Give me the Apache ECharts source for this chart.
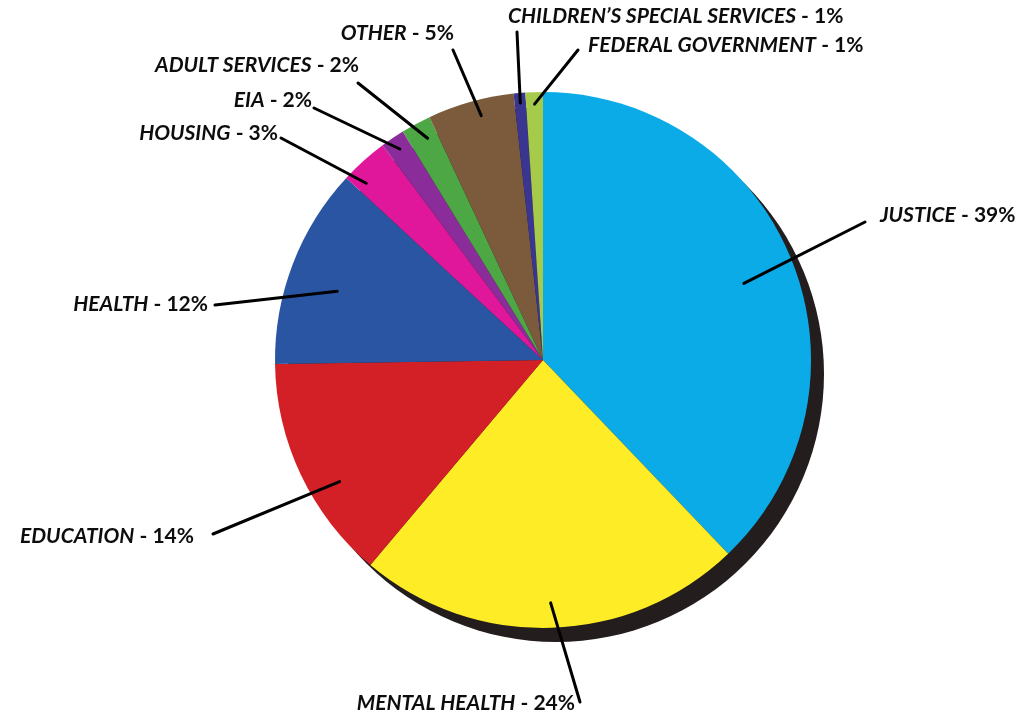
<!DOCTYPE html>
<html><head><meta charset="utf-8">
<script src="https://cdn.jsdelivr.net/npm/echarts@6/dist/echarts.min.js"></script>
<style>html,body{margin:0;padding:0;background:#fff}#c{width:1020px;height:714px}</style>
</head><body><div id="c"></div>
<script>
const categories = ['JUSTICE','MENTAL HEALTH','EDUCATION','HEALTH','HOUSING','EIA','ADULT SERVICES','OTHER','CHILDREN\u2019S SPECIAL SERVICES','FEDERAL GOVERNMENT'];
const shares = [37.8, 23.25, 13.6, 12.1, 2.9, 1.45, 1.8, 5.2, 0.7, 1.05];
const labelPercents = ['39%','24%','14%','12%','3%','2%','2%','5%','1%','1%'];

// presentation
const colors = ['#0AABE6','#FDEC26','#D32027','#2A55A3','#E0179A','#8A2D9A','#4CA744','#7B5B3B','#393591','#A6CB4B'];
const CX = 543, CY = 360, R = 268;
const lineStartR = [215, 243, 237, 217, 250, 255, 250, 252, 258, 256];
const lineStartAngleShift = [1, 0, -5.5, -2.5, -3, 0, 0.8, 1.5, 0, 0];
const labelAnchor = [
  {x: 880, y: 215, align: 'left',  end: [865, 222]},
  {x: 575, y: 703, align: 'right', end: [580, 702]},
  {x: 194, y: 536, align: 'right', end: [213, 534]},
  {x: 208, y: 304, align: 'right', end: [215, 305]},
  {x: 278, y: 133, align: 'right', end: [281, 138]},
  {x: 312, y: 100, align: 'right', end: [314, 108]},
  {x: 359, y: 65,  align: 'right', end: [358, 83]},
  {x: 454, y: 33,  align: 'right', end: [453, 50]},
  {x: 508, y: 16,  align: 'left',  end: [517, 32]},
  {x: 588, y: 45,  align: 'left',  end: [578, 50]}
];

// leader lines: start near each slice's mid-angle (derived from the data)
const total = shares.reduce((a, b) => a + b, 0);
let cum = 0;
const leaderLines = shares.map((v, i) => {
  const mid = (cum + v / 2) / total * 2 * Math.PI + lineStartAngleShift[i] * Math.PI / 180;
  cum += v;
  const sx = CX + lineStartR[i] * Math.sin(mid);
  const sy = CY - lineStartR[i] * Math.cos(mid);
  return {
    type: 'line', z: 100, silent: true,
    shape: {x1: sx, y1: sy, x2: labelAnchor[i].end[0], y2: labelAnchor[i].end[1]},
    style: {stroke: '#000', lineWidth: 3, lineCap: 'round'}
  };
});

const chart = echarts.init(document.getElementById('c'), null, {renderer: 'canvas'});
const data = categories.map((n, i) => ({
  name: n, value: shares[i], itemStyle: {color: colors[i]}
}));
chart.setOption({
  animation: false,
  backgroundColor: '#ffffff',
  graphic: leaderLines,
  series: [
    {
      type: 'pie', silent: true, z: 1,
      center: [CX + 13, CY + 14], radius: R,
      label: {show: false}, labelLine: {show: false},
      data: [{value: 1, itemStyle: {color: '#241d1e'}}]
    },
    {
      type: 'pie', z: 2,
      center: [CX, CY], radius: R,
      startAngle: 90, clockwise: true,
      avoidLabelOverlap: false,
      itemStyle: {borderWidth: 0},
      label: {
        show: true, position: 'outside',
        formatter: p => '{n|' + p.name + '}{v| - ' + labelPercents[p.dataIndex] + '}',
        rich: {
          n: {fontFamily: 'Lato', fontWeight: 'bold', fontStyle: 'italic', fontSize: 21, color: '#0d0d0d'},
          v: {fontFamily: 'Lato', fontWeight: 'bold', fontSize: 21, color: '#0d0d0d'}
        }
      },
      labelLine: {show: false},
      labelLayout: function (params) {
        const a = labelAnchor[params.dataIndex];
        return {x: a.x, y: a.y, align: a.align, verticalAlign: 'middle'};
      },
      data: data
    }
  ]
});
</script>
</body></html>
